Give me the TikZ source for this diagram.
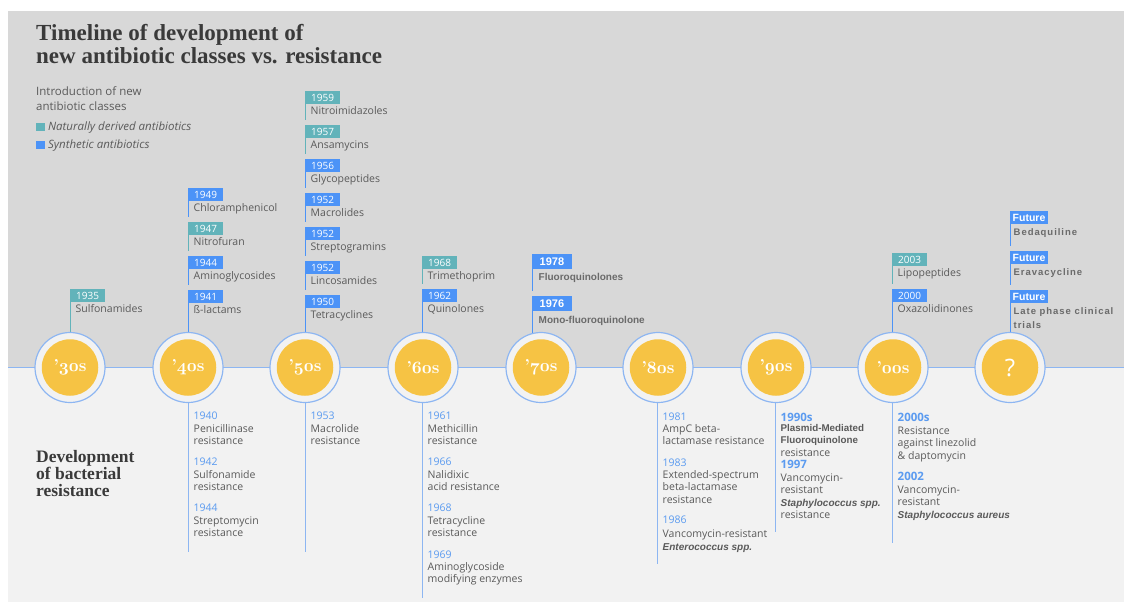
\documentclass[tikz,border=0pt]{standalone}
\usepackage{fontspec}
\usetikzlibrary{positioning}
\newfontfamily\osans{Open Sans}
\newfontfamily\lsans{Liberation Sans}
\newfontfamily\lsanswide[LetterSpace=10]{Liberation Sans}
\newfontfamily\lserif{Liberation Serif}
\definecolor{topbg}{HTML}{D8D8D8}
\definecolor{lowbg}{HTML}{F2F2F2}
\definecolor{natcol}{HTML}{62B3BA}
\definecolor{syncol}{HTML}{4C93F7}
\definecolor{ringcol}{HTML}{8DB6F2}
\definecolor{discol}{HTML}{F6C344}
\definecolor{txtgray}{HTML}{5A5A5A}
\definecolor{boldgray}{HTML}{6A6A6A}
\definecolor{headgray}{HTML}{3A3A3A}
\definecolor{resyear}{HTML}{5B9BF0}
\newcommand{\oldnum}[1]{{\usefont{OML}{cmm}{b}{it}#1}}
\newcommand{\decade}[1]{\bfseries ’\oldnum{#1}s}
\newcommand{\ryear}[1]{\textcolor{resyear}{#1}}
\newcommand{\bigyear}[1]{{\bfseries\fontsize{11.5}{12.3}\selectfont\textcolor{resyear}{#1}}}
\newcommand{\species}[1]{{\lsans\bfseries\itshape\fontsize{10}{12.3}\selectfont #1}}
\newcommand{\plasmid}[1]{{\lsans\bfseries\fontsize{9.8}{12.3}\selectfont #1}}
\tikzset{
  heading/.style={anchor=north west, inner sep=0pt, align=left, text=headgray},
  yearbox/.style={anchor=north west, inner xsep=6pt, inner ysep=0pt, minimum height=12.5pt,
    text height=7.2pt, text depth=0pt, text=white, font=\osans\fontsize{10}{10}\selectfont},
  yearbig/.style={yearbox, inner xsep=7.5pt, minimum height=14.5pt, text height=8pt,
    font=\lsans\bfseries\fontsize{11}{11}\selectfont},
  futbox/.style={yearbox, inner xsep=2.5pt, font=\lsans\bfseries\fontsize{10.5}{10.5}\selectfont},
  itemtext/.style={anchor=north west, inner sep=0pt, align=left, text=txtgray,
    font=\osans\fontsize{10.5}{12.3}\selectfont},
  boldtext/.style={itemtext, text=boldgray, font=\lsans\bfseries\fontsize{10}{12}\selectfont},
  futtext/.style={itemtext, text=boldgray, font=\lsanswide\bfseries\fontsize{9.5}{14}\selectfont},
  resitem/.style={itemtext},
  topline/.style={line width=1pt, shorten >=5pt},
  resline/.style={ringcol, line width=1pt},
  legbox/.style={anchor=north west, inner sep=0pt, minimum width=9pt, minimum height=8pt},
  legtext/.style={inner sep=0pt, text=txtgray, font=\osans\itshape\fontsize{11.5}{12}\selectfont},
  ring/.style={circle, minimum size=70pt, inner sep=0pt, fill=lowbg, draw=ringcol, line width=1.2pt},
  disc/.style={circle, minimum size=56.5pt, inner sep=0pt, fill=discol, text=white,
    font=\fontsize{17.28}{17.28}\selectfont}
}
\begin{document}
\begin{tikzpicture}[x=1pt,y=-1pt]
\useasboundingbox (0,0) rectangle (1124,602);
\fill[topbg] (8,11) rectangle (1124,367.5);
\fill[lowbg] (8,367.5) rectangle (1124,602);
\draw[ringcol, line width=1.2pt] (8,367.5) -- (1124,367.5);

\node[heading, font=\lserif\bfseries\fontsize{23}{23.5}\selectfont] (title) at (36,23.8)
  {Timeline of development of\\new antibiotic classes vs. resistance};
\node[heading, font=\lserif\bfseries\fontsize{17.5}{17}\selectfont] (devel) at (36,450)
  {Development\\of bacterial\\resistance};

% legend
\node[itemtext, font=\osans\fontsize{11.5}{14}\selectfont] (intro) at (36,87)
  {Introduction of new\\antibiotic classes};
\node[legbox, fill=natcol] (knat) at (36,123) {};
\node[legtext, right=2.5pt of knat] (lnat) {Naturally derived antibiotics};
\node[legbox, fill=syncol] (ksyn) at (36,141) {};
\node[legtext, right=2.5pt of ksyn] (lsyn) {Synthetic antibiotics};

\foreach \dec/\x in {30/70,40/188,50/305,60/423,70/541,80/658,90/776,00/893,fut/1010}
  \coordinate (c\dec) at (\x,367.5);

% new antibiotic classes
\foreach \dec/\n/\x/\yy/\col/\yr/\txt in {
  30/1/70/289/natcol/1935/Sulfonamides,
  40/1/188/188/syncol/1949/Chloramphenicol,
  40/2/188/222/natcol/1947/Nitrofuran,
  40/3/188/256/syncol/1944/Aminoglycosides,
  40/4/188/290/syncol/1941/ß-lactams,
  50/1/305/91/natcol/1959/Nitroimidazoles,
  50/2/305/125/natcol/1957/Ansamycins,
  50/3/305/159/syncol/1956/Glycopeptides,
  50/4/305/193/syncol/1952/Macrolides,
  50/5/305/227/syncol/1952/Streptogramins,
  50/6/305/261/syncol/1952/Lincosamides,
  50/7/305/295/syncol/1950/Tetracyclines,
  60/1/422/256/natcol/1968/Trimethoprim,
  60/2/422/289/syncol/1962/Quinolones,
  00/1/892/253/natcol/2003/Lipopeptides,
  00/2/892/289/syncol/2000/Oxazolidinones}{
  \node[yearbox, fill=\col] (y\dec-\n) at (\x,\yy) {\yr};
  \node[itemtext] (t\dec-\n) at ([xshift=5.5pt,yshift=-2.5pt]y\dec-\n.south west) {\txt};
}
\foreach \n/\yy/\sh/\yr/\txt in {1/254/-4/1978/Fluoroquinolones, 2/296/-5.5/1976/Mono-fluoroquinolone}{
  \node[yearbig, fill=syncol] (y70-\n) at (532,\yy) {\yr};
  \node[boldtext] (t70-\n) at ([xshift=6.5pt,yshift=\sh pt]y70-\n.south west) {\txt};
}
\foreach \n/\yy/\txt in {1/211/Bedaquiline, 2/251/Eravacycline, 3/290/{Late phase clinical\\trials}}{
  \node[futbox, fill=syncol] (yfut-\n) at (1010,\yy) {Future};
  \node[futtext] (tfut-\n) at ([xshift=3.5pt,yshift=-5pt]yfut-\n.south west) {\txt};
}
\foreach \dec/\n/\m/\col in {40/1/2/syncol,40/2/3/natcol,40/3/4/syncol,
  50/1/2/natcol,50/2/3/natcol,50/3/4/syncol,50/4/5/syncol,50/5/6/syncol,50/6/7/syncol,
  60/1/2/natcol,70/1/2/syncol,00/1/2/natcol,fut/1/2/syncol,fut/2/3/syncol}
  \draw[topline, \col] (y\dec-\n.north west) -- (y\dec-\m.north west);
\foreach \dec/\n/\col in {30/1/natcol,40/4/syncol,50/7/syncol,60/2/syncol,70/2/syncol,00/2/syncol,fut/3/syncol}
  \draw[topline, \col] (y\dec-\n.north west) -- (y\dec-\n.north west |- c\dec);

% resistance
\foreach \dec/\x/\e in {40/188/552,50/305/552,60/422/598,80/657/564,90/775/532,00/892/543}{
  \coordinate (e\dec) at (\x,\e);
  \draw[resline] (e\dec |- c\dec) -- (e\dec);
}
\foreach \dec/\n/\x/\yy/\txt in {
  40/1/193.5/412/{\ryear{1940}\\Penicillinase\\resistance},
  40/2/193.5/458/{\ryear{1942}\\Sulfonamide\\resistance},
  40/3/193.5/504/{\ryear{1944}\\Streptomycin\\resistance},
  50/1/310.5/412/{\ryear{1953}\\Macrolide\\resistance},
  60/1/427.5/412/{\ryear{1961}\\Methicillin\\resistance},
  60/2/427.5/458/{\ryear{1966}\\Nalidixic\\acid resistance},
  60/3/427.5/504/{\ryear{1968}\\Tetracycline\\resistance},
  60/4/427.5/550.5/{\ryear{1969}\\Aminoglycoside\\modifying enzymes},
  80/1/662.5/412.5/{\ryear{1981}\\AmpC beta-\\lactamase resistance},
  80/2/662.5/458.5/{\ryear{1983}\\Extended-spectrum\\beta-lactamase\\resistance},
  80/3/662.5/516/{\ryear{1986}\\[1.7pt]Vancomycin-resistant\\\species{Enterococcus spp.}},
  90/1/780.5/413/{\bigyear{1990s}\\[-2.3pt]\plasmid{Plasmid-Mediated}\\\plasmid{Fluoroquinolone}\\resistance},
  90/2/780.5/460/{\bigyear{1997}\\[0.7pt]Vancomycin-\\resistant\\\species{Staphylococcus spp.}\\resistance},
  00/1/897.5/413/{\bigyear{2000s}\\[0.7pt]Resistance\\against linezolid\\\& daptomycin},
  00/2/897.5/472/{\bigyear{2002}\\[0.7pt]Vancomycin-\\resistant\\\species{Staphylococcus aureus}}}
  \node[resitem] (r\dec-\n) at (\x,\yy) {\txt};

% decades
\foreach \dec in {30,40,50,60,70,80,90,00}{
  \node[ring] (ring\dec) at (c\dec) {};
  \node[disc] (disc\dec) at (c\dec) {\decade{\dec}};
}
\node[ring] (ringfut) at (cfut) {};
\node[disc, font=\osans\fontsize{24}{24}\selectfont] (discfut) at (cfut) {?};
\end{tikzpicture}
\end{document}
